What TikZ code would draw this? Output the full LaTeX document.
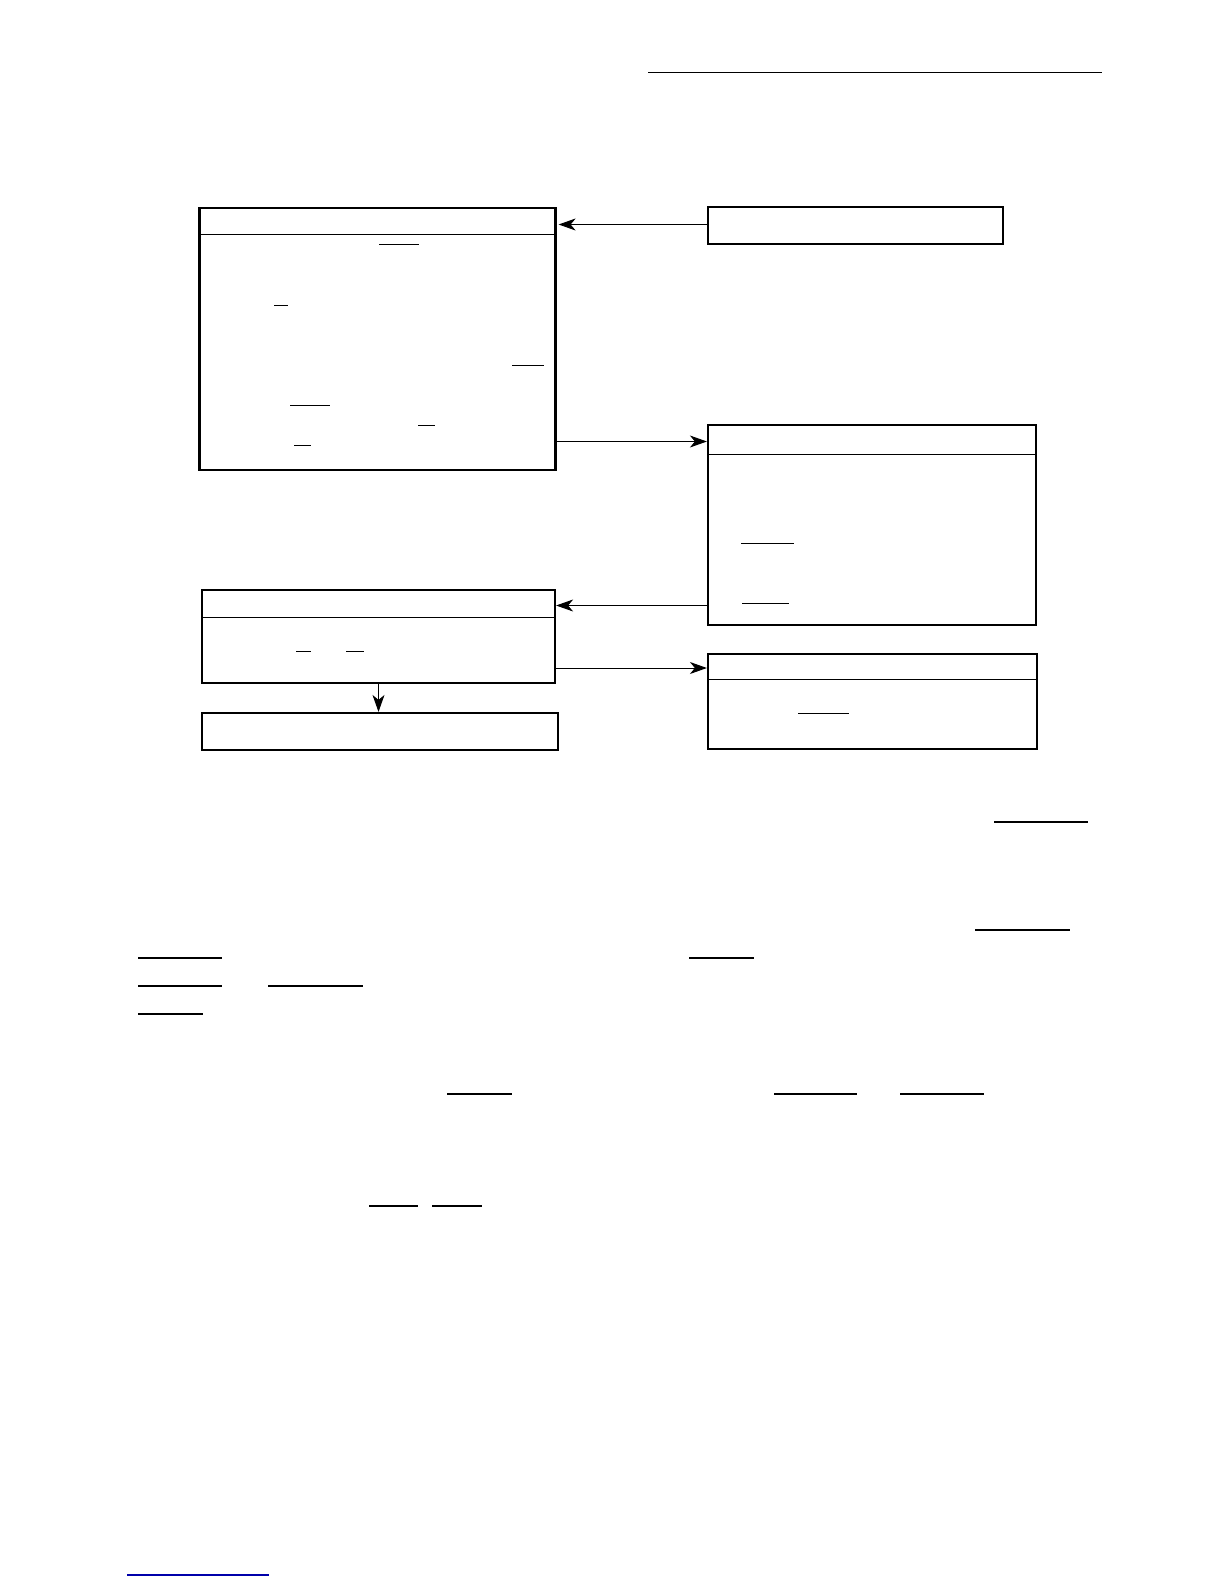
\documentclass[tikz,border=0pt]{standalone}
\usetikzlibrary{arrows.meta}
\tikzset{
  box/.style={draw=black, line width=2.2pt, rectangle, inner sep=0pt},
  headpart/.style={rectangle, inner sep=0pt, outer sep=0pt},
  hline/.style={draw=black, line width=1pt},
  conn/.style={draw=black, line width=1pt, -{Stealth[length=17pt,width=12pt,inset=5pt]}},
  uline/.style={draw=black, line width=1pt},
  ulinethick/.style={draw=black, line width=1.4pt},
  rule/.style={draw=black, line width=1pt},
  bluerule/.style={draw={rgb,255:red,0;green,0;blue,170}, line width=1.2pt}
}
\begin{document}
\begin{tikzpicture}[x=1pt,y=-1pt]
\useasboundingbox[fill=white] (0,0) rectangle (1224,1584);

% top rule
\draw[rule] (648,73) -- (1102,73);

% boxes
\node[box, minimum width=356pt, minimum height=262pt] (A) at (377.5,339) {};
\node[headpart, minimum width=356pt, minimum height=26pt] (Ahead) at (377.5,221) {};
\draw[hline] (Ahead.south west) -- (Ahead.south east);

\node[box, minimum width=295pt, minimum height=37pt] (B) at (855.5,225.5) {};

\node[box, minimum width=328pt, minimum height=200pt] (C) at (872,525) {};
\node[headpart, minimum width=328pt, minimum height=29pt] (Chead) at (872,439.5) {};
\draw[hline] (Chead.south west) -- (Chead.south east);

\node[box, minimum width=353pt, minimum height=93pt] (D) at (378.5,636.5) {};
\node[headpart, minimum width=353pt, minimum height=27pt] (Dhead) at (378.5,603.5) {};
\draw[hline] (Dhead.south west) -- (Dhead.south east);

\node[box, minimum width=329pt, minimum height=95pt] (E) at (872.5,701.5) {};
\node[headpart, minimum width=329pt, minimum height=25pt] (Ehead) at (872.5,666.5) {};
\draw[hline] (Ehead.south west) -- (Ehead.south east);

\node[box, minimum width=356pt, minimum height=37pt] (F) at (380,731.5) {};

% connectors
\draw[conn, shorten >=2pt] ([yshift=1pt]B.west) -- ([yshift=1pt]B.west -| A.east);
\draw[conn] ([yshift=-2pt]A.east |- Chead.west) -- ([yshift=-2pt]C.west |- Chead.west);
\draw[conn] ([yshift=-2pt]C.west |- Dhead.west) -- ([yshift=-2pt]D.east |- Dhead.west);
\draw[conn] ([yshift=-1.5pt]D.east |- Ehead.west) -- ([yshift=-1.5pt]E.west |- Ehead.west);
\draw[conn] (D.south) -- (D.south |- F.north);

% underlines inside boxes
\draw[uline] (379,244) -- (419,244);
\draw[uline] (274,305) -- (288,305);
\draw[uline] (512,365) -- (544,365);
\draw[uline] (290,405) -- (330,405);
\draw[uline] (418,425) -- (435,425);
\draw[uline] (294,445) -- (311,445);
\draw[uline] (741,543) -- (794,543);
\draw[uline] (742,603) -- (789,603);
\draw[uline] (296,651) -- (311,651);
\draw[uline] (346,651) -- (364,651);
\draw[uline] (798,713) -- (849,713);

% underlines below
\draw[ulinethick] (994,822) -- (1088,822);
\draw[ulinethick] (975,930) -- (1070,930);
\draw[ulinethick] (138,958) -- (222,958);
\draw[ulinethick] (689,958) -- (754,958);
\draw[ulinethick] (138,986) -- (222,986);
\draw[ulinethick] (268,986) -- (363,986);
\draw[ulinethick] (138,1014) -- (203,1014);
\draw[ulinethick] (447,1094) -- (512,1094);
\draw[ulinethick] (774,1094) -- (857,1094);
\draw[ulinethick] (900,1094) -- (984,1094);
\draw[ulinethick] (369,1206) -- (418,1206);
\draw[ulinethick] (432,1206) -- (482,1206);

% bottom blue rule
\draw[bluerule] (127,1575) -- (269,1575);
\end{tikzpicture}
\end{document}
